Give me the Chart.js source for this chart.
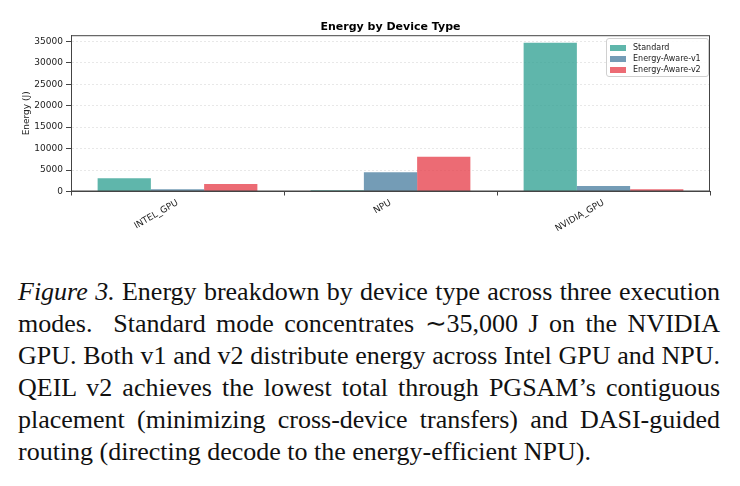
<!DOCTYPE html>
<html>
<head>
<meta charset="utf-8">
<script src="https://cdn.jsdelivr.net/npm/chart.js@4"></script>
<style>
  html, body { margin: 0; padding: 0; background: #fff; }
  #wrap { position: relative; width: 740px; height: 486px; overflow: hidden; }
  #chart-box { position: absolute; left: 0; top: 0; width: 740px; height: 240px; }
  .legend {
    position: absolute; left: 606px; top: 38px; width: 101px; height: 37px;
    border: 1px solid #d0d0d0; border-radius: 3px; background: rgba(255,255,255,0.85);
    font-family: "DejaVu Sans", sans-serif; font-size: 8px; color: #222;
  }
  .legend div { position: absolute; left: 3px; height: 11px; line-height: 11px; white-space: nowrap; }
  .legend span.sw { display: inline-block; width: 16px; height: 6px; margin-right: 7px; vertical-align: -0.5px; }
  .caption {
    position: absolute; left: 18px; top: 276px; width: 702px;
    font-family: "Liberation Serif", "Times New Roman", serif; font-size: 26px; line-height: 32px; color: #111;
  }
  .caption .ln { display: block; white-space: nowrap; text-align: justify; text-align-last: justify; }
  .caption .ln.last { text-align-last: left; }
</style>
</head>
<body>
<div id="wrap">
  <div id="chart-box"><canvas id="energy-bar" width="740" height="240"></canvas></div>
  <div class="legend" id="legend"></div>
  <div class="caption">
    <span class="ln"><i>Figure 3.</i> Energy breakdown by device type across three execution</span>
    <span class="ln">modes.&nbsp; Standard mode concentrates ∼35,000 J on the NVIDIA</span>
    <span class="ln">GPU. Both v1 and v2 distribute energy across Intel GPU and NPU.</span>
    <span class="ln">QEIL v2 achieves the lowest total through PGSAM’s contiguous</span>
    <span class="ln">placement (minimizing cross-device transfers) and DASI-guided</span>
    <span class="ln last">routing (directing decode to the energy-efficient NPU).</span>
  </div>
</div>
<script>
// ── Data ──────────────────────────────────────────────
const devices   = ['INTEL_GPU', 'NPU', 'NVIDIA_GPU'];
const standard  = [3100, 280, 34700];
const awareV1   = [550, 4500, 1300];
const awareV2   = [1750, 8100, 500];
const yTicks    = [0, 5000, 10000, 15000, 20000, 25000, 30000, 35000];

const SERIES = [
  { label: 'Standard',        data: standard, color: 'rgba(42,157,143,0.75)' },
  { label: 'Energy-Aware-v1', data: awareV1,  color: 'rgba(69,123,157,0.75)' },
  { label: 'Energy-Aware-v2', data: awareV2,  color: 'rgba(230,57,70,0.75)' },
];

// matplotlib-ish 5% headroom over the tallest bar
const yMax = Math.max(...standard, ...awareV1, ...awareV2) * 1.05;

const FONT = '"DejaVu Sans", sans-serif';
const AXIS = '#444';

// legend (html, sits inside the plot like matplotlib's upper right)
document.getElementById('legend').innerHTML = SERIES.map((s, i) =>
  `<div style="top:${3 + i * 11}px"><span class="sw" style="background:${s.color}"></span>${s.label}</div>`
).join('');

// box around the plot area (top + right sides)
const frame = {
  id: 'frame',
  afterDraw(chart) {
    const { ctx, chartArea: a } = chart;
    ctx.save();
    ctx.strokeStyle = AXIS;
    ctx.lineWidth = 1;
    ctx.strokeRect(a.left + 0.5, a.top + 0.5, a.right - a.left - 1, a.bottom - a.top - 1);
    ctx.restore();
  }
};

new Chart(document.getElementById('energy-bar'), {
  type: 'bar',
  data: {
    labels: devices,
    datasets: SERIES.map(s => ({
      label: s.label,
      data: s.data,
      backgroundColor: s.color,
      borderWidth: 0,
      categoryPercentage: 0.75,
      barPercentage: 1.0,
    }))
  },
  options: {
    responsive: false,
    animation: false,
    devicePixelRatio: 1,
    layout: { padding: { left: 0, right: 30, top: 0, bottom: 0 } },
    plugins: {
      legend: { display: false },
      tooltip: { enabled: false },
      title: {
        display: true,
        text: 'Energy by Device Type',
        fullSize: false,
        color: '#000',
        font: { family: FONT, size: 11, weight: 'bold', lineHeight: 1.2 },
        padding: { top: 21, bottom: 1 },
      }
    },
    scales: {
      x: {
        grid: { display: true, drawOnChartArea: false, tickLength: 4, tickColor: AXIS },
        border: { color: AXIS, width: 1 },
        ticks: { color: '#222', font: { family: FONT, size: 9 }, minRotation: 30, maxRotation: 30, padding: 2 },
        afterFit: s => { s.height = 48.5; }
      },
      y: {
        min: 0,
        max: yMax,
        afterBuildTicks: s => { s.ticks = yTicks.map(v => ({ value: v })); },
        grid: { color: 'rgba(0,0,0,0.09)', tickColor: AXIS, tickLength: 5, tickBorderDash: [] },
        border: { color: AXIS, width: 1, dash: [2, 2] },
        ticks: { color: '#222', font: { family: FONT, size: 9 }, padding: 3, callback: v => String(v) },
        title: {
          display: true,
          text: 'Energy (J)',
          color: '#222',
          font: { family: FONT, size: 9 },
          padding: { top: 21, bottom: 0 }
        },
        afterFit: s => { s.width = 71; }
      }
    }
  },
  plugins: [frame]
});
</script>
</body>
</html>
